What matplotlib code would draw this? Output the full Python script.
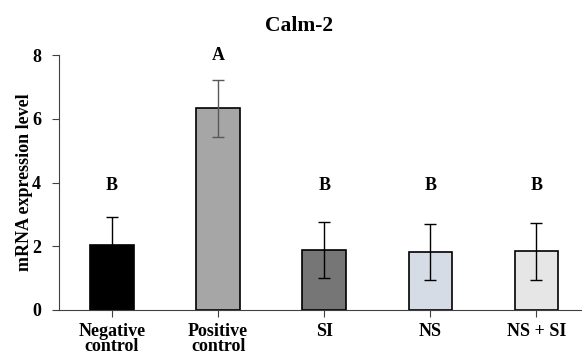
import matplotlib
matplotlib.use('Agg')
import matplotlib.pyplot as plt
import numpy as np

groups = ['Negative\ncontrol', 'Positive\ncontrol', 'SI', 'NS', 'NS + SI']
means = [2.04, 6.33, 1.87, 1.82, 1.84]
errors = [0.87, 0.89, 0.88, 0.88, 0.89]
letters = ['B', 'A', 'B', 'B', 'B']
letter_y = [3.9, 8.0, 3.9, 3.9, 3.9]
bar_colors = ['#000000', '#a6a6a6', '#767676', '#d6dce5', '#e6e6e6']
err_colors = ['#000000', '#595959', '#000000', '#000000', '#000000']

plt.rcParams['font.family'] = ['Liberation Serif', 'DejaVu Serif']
plt.rcParams['font.weight'] = 'bold'

fig = plt.figure(figsize=(5.82, 3.56), dpi=100)
ax = fig.add_axes([59 / 582, 1 - 310 / 356, 1 - 59 / 582, (310 - 55) / 356])

x = np.arange(len(groups))
ax.bar(x, means, width=0.41, color=bar_colors, edgecolor='black', linewidth=1.2, zorder=2)
for i in range(len(x)):
    ax.errorbar(x[i], means[i], yerr=errors[i], fmt='none', ecolor=err_colors[i],
                elinewidth=1.0, capsize=4, capthick=1.0, zorder=3)
    ax.text(x[i], letter_y[i], letters[i], ha='center', va='center', fontsize=13, fontweight='bold')

ax.set_xlim(-0.5, 4.43)
ax.set_ylim(0, 8)
ax.set_yticks([0, 2, 4, 6, 8])
ax.set_xticks(x)
ax.set_xticklabels(groups, fontsize=13, fontweight='bold', linespacing=0.9)
ax.tick_params(axis='y', labelsize=13, length=5, width=0.8, pad=8, color='#404040')
ax.tick_params(axis='x', length=5, width=0.8, pad=4, color='#404040')
for lbl in ax.get_yticklabels():
    lbl.set_fontweight('bold')
ax.spines['top'].set_visible(False)
ax.spines['right'].set_visible(False)
ax.spines['left'].set_linewidth(0.8)
ax.spines['bottom'].set_linewidth(0.8)
ax.spines['left'].set_color('#404040')
ax.spines['bottom'].set_color('#404040')
ax.set_ylabel('mRNA expression level', fontsize=13, fontweight='bold')
ax.yaxis.set_label_coords(-0.05, 0.5)

fig.text(299 / 582, 1 - 31 / 356, 'Calm-2', ha='center', va='baseline', fontsize=15.5, fontweight='bold')

fig.savefig('out.png', dpi=100)
